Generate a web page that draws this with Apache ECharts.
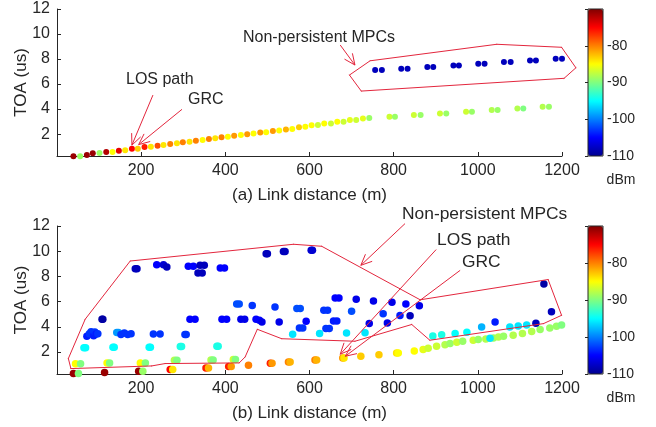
<!DOCTYPE html>
<html>
<head>
<meta charset="utf-8">
<script src="https://cdn.jsdelivr.net/npm/echarts@6/dist/echarts.min.js"></script>
<style>html,body{margin:0;padding:0;background:#fff}#c{width:656px;height:427px}</style>
</head>
<body>
<div id="c"></div>
<script>
// ---------- data ----------
const xTicks = [200, 400, 600, 800, 1000, 1200];
const yTicks = [2, 4, 6, 8, 10, 12];
const cbTicks = [-80, -90, -100, -110];

// (a) top panel: distance (m), TOA (us), power (dBm)
const topDist = [39,55,71,85,101,117,132,147,162,178,192,208,223,239,253,269,285,299,315,330,346,361,376,391,406,421,437,452,467,483,497,513,528,544,559,575,590,605,620,635,651,666,681,696,711,727,742,790,803,848,864,910,925,972,986,1033,1047,1094,1108,1154,1169,
  756,772,818,833,880,894,942,955,1001,1016,1062,1078,1124,1138,1185,1200];
const topToa = [0.24,0.24,0.32,0.46,0.48,0.56,0.56,0.66,0.70,0.82,0.82,0.96,0.98,1.06,1.12,1.20,1.26,1.34,1.38,1.46,1.52,1.60,1.66,1.74,1.78,1.86,1.92,1.98,2.04,2.13,2.15,2.25,2.28,2.37,2.40,2.55,2.58,2.70,2.72,2.85,2.85,2.98,2.99,3.12,3.12,3.25,3.28,3.38,3.38,3.52,3.52,3.65,3.65,3.79,3.79,3.92,3.92,4.05,4.05,4.18,4.18,
  7.12,7.12,7.22,7.22,7.36,7.36,7.49,7.49,7.62,7.62,7.76,7.76,7.89,7.89,8.02,8.02];
const topPow = [-71,-89,-71,-71,-89,-72,-85,-74,-84,-75,-83,-76,-84,-78,-84,-80,-84,-80,-84,-80,-85,-80,-84,-80,-85,-81,-85,-81,-85,-81,-85,-81,-85,-82,-85,-83,-85,-85,-87,-85,-87,-85,-87,-86,-87,-86,-89,-87,-89,-87,-89,-87,-89,-87,-89,-88,-89,-88,-90,-88,-89,
  -108,-108,-108,-108,-108,-108,-108,-108,-108,-108,-108,-108,-108,-108,-108,-108];

// (b) bottom panel
const botDist = [39,51,113,194,204,269,275,354,360,408,414,455,507,511,550,554,613,617,679,682,722,765,807,811,849,870,882,902,922,934,950,964,989,1001,1019,1037,1049,1061,1084,1106,1128,1148,1171,1187,1199,
  44,56,119,125,198,210,279,285,366,371,419,424,
  64,68,133,136,219,222,293,296,380,383,
  71,77,81,87,90,93,97,107,109,142,146,152,160,168,176,186,190,229,245,237,253,261,304,307,312,324,316,328,335,345,340,350,388,398,392,403,427,433,437,446,464,473,481,487,497,500,518,528,538,542,560,570,578,576,584,592,604,607,624,634,643,639,647,657,665,661,670,688,700,711,732,742,752,775,785,796,815,829,839,861,893,914,946,974,1009,1029,1041,1076,1096,1116,1138,1157,1175];
const botToa = [0.28,0.28,0.36,0.47,0.47,0.60,0.60,0.73,0.73,0.84,0.84,0.95,1.10,1.10,1.21,1.21,1.37,1.37,1.52,1.52,1.66,1.77,1.92,1.92,2.07,2.20,2.30,2.45,2.58,2.68,2.78,2.85,2.92,2.98,3.03,3.11,3.19,3.25,3.33,3.46,3.63,3.78,3.90,4.04,4.15,
  1.07,1.07,1.12,1.12,1.12,1.12,1.34,1.34,1.36,1.36,1.40,1.40,
  2.33,2.33,2.37,2.37,2.37,2.37,2.44,2.44,2.45,2.45,
  3.25,3.45,3.60,3.28,3.58,3.42,3.45,4.60,4.60,3.55,3.55,3.38,3.50,3.38,3.45,8.60,8.60,3.42,3.42,8.92,8.92,8.75,3.38,3.38,8.80,8.80,4.60,4.60,8.27,8.27,8.88,8.88,8.66,8.66,4.60,4.60,5.81,5.81,4.60,4.60,5.68,4.60,4.52,4.38,9.80,9.80,5.56,4.38,9.97,9.97,3.40,5.45,5.45,3.90,3.90,4.44,10.07,10.07,3.46,5.31,5.31,3.86,3.86,4.46,4.46,6.29,6.29,3.51,5.23,6.18,3.53,4.25,6.05,5.04,4.30,5.95,4.89,5.80,4.87,5.67,3.27,3.37,3.47,3.57,3.98,3.08,4.38,3.98,4.06,4.15,4.27,7.40,5.20];
const botPow = [-71,-90,-71,-71,-89,-75,-84,-76,-82,-76,-81,-80,-76,-81,-80,-82,-80,-82,-81,-84,-83,-83,-84,-85,-85,-86,-87,-87,-88,-89,-87,-89,-87,-89,-88,-89,-88,-89,-88,-88,-88,-89,-89,-89,-90,
  -85,-90,-85,-90,-85,-90,-88,-90,-88,-90,-87,-90,
  -95,-95,-95,-95,-95,-95,-94,-94,-94,-94,
  -104,-103,-103,-104,-103,-104,-103,-109,-109,-99,-99,-103,-103,-103,-103,-108,-108,-103,-103,-105,-107,-108,-103,-103,-105,-105,-105,-105,-108,-108,-108,-108,-105,-105,-105,-105,-102,-102,-106,-106,-103,-105,-105,-106,-108,-108,-103,-106,-108,-108,-96,-102,-102,-103,-103,-105,-107,-107,-96,-103,-103,-103,-103,-104,-104,-105,-105,-96,-102,-106,-96,-106,-106,-103,-106,-106,-104,-105,-108,-106,-94,-94,-95,-95,-98,-96,-104,-96,-96,-96,-108,-109,-108];

// outlines (data coords)
const polyTopX = [695,744,1045,1199,1233,1205,723,695];
const polyTopY = [6.72,7.86,9.18,8.94,7.30,6.46,5.44,6.72];
const polyBotX = [33,225,257,433,447,476,534,708,843,886,1156,1199,1167,863,629,562,174,67,27,33];
const polyBotY = [0.68,0.89,1.08,1.13,1.60,3.80,3.05,2.85,4.18,2.93,4.25,4.91,7.75,6.14,10.39,10.55,9.22,4.60,1.48,0.68];

// arrows [x1,y1,x2,y2] (data coords)
const arrowsTop = [[673,9.12,708,7.52],[228,5.12,178,1.12],[297,3.98,194,1.16]];
const arrowsBot = [[827,12.19,722,8.88],[901,10.13,673,1.82],[958,8.48,685,1.66]];

// ---------- chart ----------
const RED = '#e3263d';
const TXT = '#262626';
const FONT = 'Liberation Sans, Arial, sans-serif';
const jet = ['#00008f','#0000ff','#0080ff','#00ffff','#80ff80','#ffff00','#ff8000','#ff0000','#800000'];

const topData = topDist.map((d,i)=>[d, topToa[i], topPow[i]]);
const botData = botDist.map((d,i)=>[d, botToa[i], botPow[i]]);
function segs(xs, ys) {
  const out = [];
  for (let i = 0; i < xs.length - 1; i++) out.push([xs[i], ys[i], xs[i+1], ys[i+1]]);
  return out;
}
const polyTopSegs = segs(polyTopX, polyTopY);
const polyBotSegs = segs(polyBotX, polyBotY);

function segItem(params, api) {
  const p1 = api.coord([api.value(0), api.value(1)]);
  const p2 = api.coord([api.value(2), api.value(3)]);
  return {type:'line', shape:{x1:p1[0],y1:p1[1],x2:p2[0],y2:p2[1]}, style:{stroke:RED, lineWidth:1, lineCap:'round'}};
}
function arrowItem(params, api) {
  const p1 = api.coord([api.value(0), api.value(1)]);
  const p2 = api.coord([api.value(2), api.value(3)]);
  const ang = Math.atan2(p2[1]-p1[1], p2[0]-p1[0]);
  const L = 12, a = 0.42;
  const h1 = [p2[0]-L*Math.cos(ang-a), p2[1]-L*Math.sin(ang-a)];
  const h2 = [p2[0]-L*Math.cos(ang+a), p2[1]-L*Math.sin(ang+a)];
  return {type:'group', children:[
    {type:'line', shape:{x1:p1[0],y1:p1[1],x2:p2[0],y2:p2[1]}, style:{stroke:RED, lineWidth:1}},
    {type:'polyline', shape:{points:[h1,p2,h2]}, style:{stroke:RED, lineWidth:1, fill:null}}
  ]};
}

function xAxisCfg(gi, name) {
  return {
    gridIndex: gi, type:'value', min:0, max:1200, interval:200,
    name: name, nameLocation:'middle', nameGap:31,
    nameTextStyle:{fontSize:17, color:TXT, fontFamily:FONT},
    axisLine:{lineStyle:{color:TXT, width:1}},
    axisTick:{inside:true, length:4, lineStyle:{color:TXT}},
    axisLabel:{fontSize:16, color:TXT, fontFamily:FONT, margin:7, formatter:v => xTicks.includes(v) ? String(v) : ''},
    splitLine:{show:false}
  };
}
function yAxisCfg(gi) {
  return {
    gridIndex: gi, type:'value', min:0.25, max:12, minInterval:2, maxInterval:2,
    name:'TOA (us)', nameLocation:'middle', nameGap:27, nameMoveOverlap:false,
    nameTextStyle:{fontSize:17, color:TXT, fontFamily:FONT},
    axisLine:{show:true, lineStyle:{color:TXT, width:1}},
    axisTick:{show:true, inside:true, length:4, lineStyle:{color:TXT}},
    axisLabel:{fontSize:16, color:TXT, fontFamily:FONT, margin:7, formatter:v => yTicks.includes(v) ? String(v) : ''},
    splitLine:{show:false}
  };
}
function cbAxisCfg(gi) {
  return {
    gridIndex: gi, type:'value', position:'right', min:-110, max:-70, interval:10,
    axisLine:{show:false},
    axisTick:{show:true, inside:true, length:3, lineStyle:{color:TXT}},
    axisLabel:{fontSize:14, color:TXT, fontFamily:FONT, margin:4, formatter:v => cbTicks.includes(v) ? String(v) : ''},
    splitLine:{show:false}
  };
}
function vm(si, top, h) {
  return {
    type:'continuous', seriesIndex:si, dimension:2, min:-110, max:-70,
    calculable:false, hoverLink:false, orient:'vertical', left:588, top:top,
    itemWidth:15, itemHeight:h, padding:0, text:null, showLabel:false,
    inRange:{color:jet}
  };
}

const chart = echarts.init(document.getElementById('c'), null, {renderer:'canvas'});
chart.setOption({
  animation:false,
  backgroundColor:'#ffffff',
  textStyle:{fontFamily:FONT},
  grid:[
    {left:57, top:9, width:505, height:147},
    {left:57, top:226, width:505, height:148},
    {left:588, top:9, width:15, height:147, show:true, borderColor:TXT, borderWidth:1, backgroundColor:'transparent', z:10},
    {left:588, top:226, width:15, height:148, show:true, borderColor:TXT, borderWidth:1, backgroundColor:'transparent', z:10}
  ],
  xAxis:[
    xAxisCfg(0, '(a) Link distance (m)'),
    xAxisCfg(1, '(b) Link distance (m)'),
    {gridIndex:2, type:'value', min:0, max:1, show:false},
    {gridIndex:3, type:'value', min:0, max:1, show:false}
  ],
  yAxis:[yAxisCfg(0), yAxisCfg(1), cbAxisCfg(2), cbAxisCfg(3)],
  visualMap:[vm(0, 9, 147), vm(1, 226, 148)],
  series:[
    {type:'scatter', xAxisIndex:0, yAxisIndex:0, data:topData, symbolSize:6, clip:false, itemStyle:{opacity:1}},
    {type:'scatter', xAxisIndex:1, yAxisIndex:1, data:botData, symbolSize:7.5, clip:false, itemStyle:{opacity:1}},
    {type:'custom', xAxisIndex:0, yAxisIndex:0, data:polyTopSegs, renderItem:segItem, clip:false, silent:true,
      encode:{x:[0,2], y:[1,3]}, z:5},
    {type:'custom', xAxisIndex:1, yAxisIndex:1, data:polyBotSegs, renderItem:segItem, clip:false, silent:true,
      encode:{x:[0,2], y:[1,3]}, z:5},
    {type:'custom', xAxisIndex:0, yAxisIndex:0, data:arrowsTop, renderItem:arrowItem, clip:false, silent:true,
      encode:{x:[0,2], y:[1,3]}, z:6},
    {type:'custom', xAxisIndex:1, yAxisIndex:1, data:arrowsBot, renderItem:arrowItem, clip:false, silent:true,
      encode:{x:[0,2], y:[1,3]}, z:6}
  ],
  graphic:[
    {type:'text', x:243, y:38, style:{text:'Non-persistent MPCs', fontSize:16, fontFamily:FONT, fill:TXT, verticalAlign:'middle'}},
    {type:'text', x:126, y:80, style:{text:'LOS path', fontSize:16, fontFamily:FONT, fill:TXT, verticalAlign:'middle'}},
    {type:'text', x:188, y:100, style:{text:'GRC', fontSize:16, fontFamily:FONT, fill:TXT, verticalAlign:'middle'}},
    {type:'text', x:402, y:214, style:{text:'Non-persistent MPCs', fontSize:17.4, fontFamily:FONT, fill:TXT, verticalAlign:'middle'}},
    {type:'text', x:437, y:240, style:{text:'LOS path', fontSize:17.4, fontFamily:FONT, fill:TXT, verticalAlign:'middle'}},
    {type:'text', x:462, y:262, style:{text:'GRC', fontSize:17.4, fontFamily:FONT, fill:TXT, verticalAlign:'middle'}},
    {type:'text', x:621, y:180, style:{text:'dBm', fontSize:14, fontFamily:FONT, fill:TXT, align:'center', verticalAlign:'middle'}},
    {type:'text', x:621, y:398, style:{text:'dBm', fontSize:14, fontFamily:FONT, fill:TXT, align:'center', verticalAlign:'middle'}}
  ]
});
</script>
</body>
</html>
